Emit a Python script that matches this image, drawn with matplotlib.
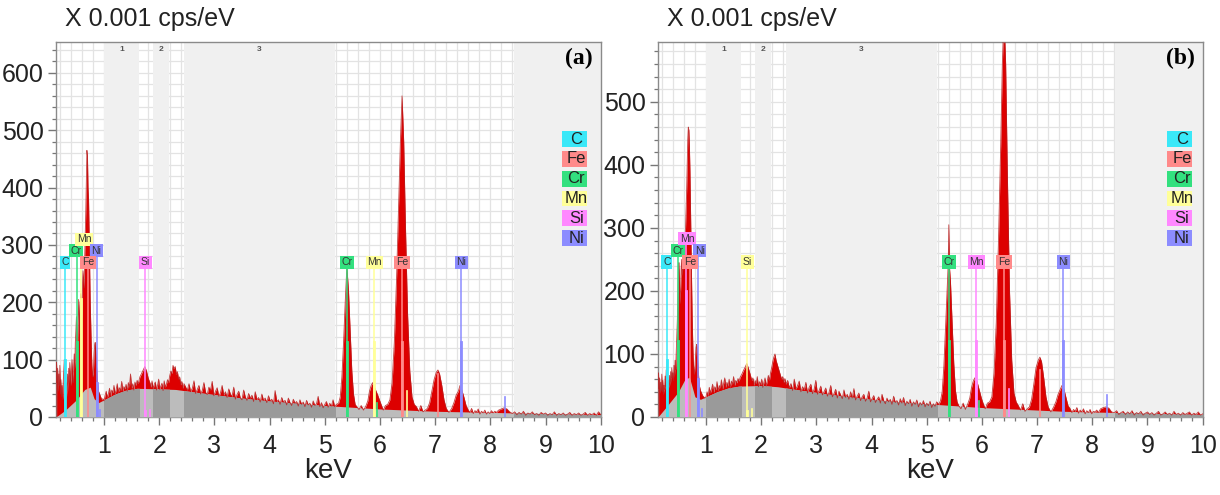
import matplotlib
matplotlib.use("Agg")
import matplotlib.pyplot as plt
from matplotlib.patches import Rectangle
from matplotlib.ticker import MultipleLocator

plt.rcParams["font.family"] = ["Liberation Sans", "DejaVu Sans"]

# element colours used by the EDS software
CYAN, SALMON, GREEN = "#3ae8f8", "#ff8a8a", "#33e07f"
YELLOW, MAGENTA, BLUE = "#ffff99", "#ff88ff", "#8c8cff"

LEGEND = ["C", "Fe", "Cr", "Mn", "Si", "Ni"]
LEGEND_COLORS = [CYAN, SALMON, GREEN, YELLOW, MAGENTA, BLUE]

# ROI bands (keV) and their numbers
ROI_BANDS = [(1.00, 1.63), (1.89, 2.17), (2.45, 5.18), (8.42, 10.0)]
ROI_NAMES = ["1", "2", "3", ""]

# spectrum (a): (keV, counts x0.001 cps/eV)
A_SPECTRUM = [
    (0.13, 0), (0.14, 95), (0.15, 60), (0.16, 85), (0.17, 45), (0.18, 75), (0.19, 55),
    (0.20, 90), (0.21, 40), (0.22, 65), (0.23, 35), (0.24, 55), (0.25, 30), (0.26, 60),
    (0.27, 80), (0.28, 100), (0.29, 70), (0.30, 45), (0.31, 60), (0.32, 35), (0.33, 55),
    (0.34, 75), (0.35, 45), (0.36, 85), (0.37, 60), (0.38, 95), (0.39, 70), (0.40, 55),
    (0.41, 80), (0.42, 100), (0.43, 75), (0.44, 60), (0.45, 90), (0.46, 110), (0.47, 85),
    (0.48, 130), (0.49, 150), (0.50, 175), (0.51, 140), (0.52, 120), (0.53, 165),
    (0.54, 205), (0.55, 180), (0.56, 145), (0.57, 200), (0.58, 215), (0.59, 190),
    (0.60, 170), (0.61, 230), (0.62, 255), (0.63, 240), (0.64, 225), (0.65, 280),
    (0.66, 320), (0.67, 360), (0.68, 410), (0.69, 465), (0.70, 455), (0.71, 400),
    (0.72, 380), (0.73, 320), (0.74, 260), (0.75, 200), (0.76, 160), (0.77, 120),
    (0.78, 90), (0.79, 75), (0.80, 70), (0.81, 85), (0.82, 110), (0.83, 125), (0.84, 130),
    (0.85, 115), (0.86, 95), (0.87, 80), (0.88, 60), (0.89, 55), (0.90, 45), (0.92, 40),
    (0.94, 35), (0.96, 30), (0.98, 32), (1.00, 28),
    (1.02, 38), (1.04, 45), (1.06, 33), (1.08, 41), (1.10, 50), (1.12, 36), (1.14, 47),
    (1.16, 42), (1.18, 55), (1.20, 39), (1.22, 48), (1.24, 58), (1.26, 43), (1.28, 51),
    (1.30, 46), (1.32, 62), (1.34, 44), (1.36, 53), (1.38, 49), (1.40, 57), (1.42, 45),
    (1.44, 60), (1.46, 52), (1.48, 75), (1.50, 50), (1.52, 58), (1.54, 47), (1.56, 61),
    (1.58, 55), (1.60, 64), (1.62, 58), (1.65, 70), (1.68, 76), (1.71, 82), (1.74, 88),
    (1.77, 80), (1.80, 68), (1.83, 60), (1.85, 52), (1.87, 63), (1.89, 49), (1.91, 57),
    (1.93, 61), (1.95, 47), (1.97, 55), (1.99, 66), (2.01, 48), (2.03, 54), (2.05, 59),
    (2.07, 46), (2.09, 63), (2.11, 52), (2.13, 57), (2.15, 65), (2.17, 60), (2.19, 72),
    (2.21, 80), (2.23, 76), (2.25, 90), (2.27, 84), (2.29, 88), (2.31, 74), (2.33, 79),
    (2.35, 66), (2.37, 70), (2.39, 56), (2.41, 62), (2.43, 50), (2.45, 58),
    (2.48, 52), (2.51, 47), (2.54, 58), (2.57, 44), (2.60, 50), (2.63, 63), (2.66, 41),
    (2.69, 48), (2.72, 55), (2.75, 40), (2.78, 46), (2.81, 60), (2.84, 43), (2.87, 39),
    (2.90, 52), (2.93, 47), (2.96, 62), (2.99, 37), (3.02, 45), (3.05, 51), (3.08, 36),
    (3.11, 42), (3.14, 55), (3.17, 38), (3.20, 44), (3.23, 34), (3.26, 49), (3.29, 40),
    (3.32, 36), (3.35, 52), (3.38, 31), (3.41, 39), (3.44, 45), (3.47, 33), (3.50, 30),
    (3.53, 47), (3.56, 35), (3.59, 29), (3.62, 41), (3.65, 33), (3.68, 38), (3.71, 27),
    (3.74, 44), (3.77, 30), (3.80, 34), (3.83, 26), (3.86, 40), (3.89, 29), (3.92, 33),
    (3.95, 25), (3.98, 37), (4.01, 28), (4.04, 31), (4.07, 23), (4.10, 46), (4.13, 27),
    (4.16, 30), (4.19, 22), (4.22, 34), (4.25, 26), (4.28, 29), (4.31, 21), (4.34, 33),
    (4.37, 25), (4.40, 20), (4.43, 31), (4.46, 24), (4.49, 27), (4.52, 19), (4.55, 30),
    (4.58, 22), (4.61, 26), (4.64, 18), (4.67, 29), (4.70, 21), (4.73, 24), (4.76, 17),
    (4.79, 28), (4.82, 20), (4.85, 23), (4.88, 36), (4.91, 18), (4.94, 25), (4.97, 16),
    (5.00, 22), (5.03, 27), (5.06, 17), (5.09, 24), (5.12, 19), (5.15, 30), (5.18, 18),
    (5.21, 22), (5.25, 24),
    (5.28, 35), (5.31, 70), (5.34, 130), (5.37, 200), (5.40, 262), (5.43, 220),
    (5.46, 150), (5.49, 80), (5.52, 40), (5.55, 22), (5.58, 18), (5.62, 13), (5.66, 20),
    (5.70, 12), (5.74, 18), (5.78, 28), (5.81, 45), (5.84, 55), (5.87, 60), (5.90, 52),
    (5.93, 45), (5.96, 38), (5.99, 30), (6.02, 22), (6.06, 12), (6.10, 20), (6.14, 22),
    (6.18, 30), (6.22, 60), (6.26, 130), (6.30, 240), (6.34, 380), (6.37, 480),
    (6.40, 560), (6.43, 480), (6.46, 340), (6.50, 180), (6.54, 80), (6.58, 35),
    (6.62, 22), (6.66, 18), (6.70, 10), (6.74, 20), (6.78, 9), (6.82, 12), (6.86, 15),
    (6.90, 25), (6.94, 45), (6.98, 65), (7.02, 78), (7.05, 82), (7.08, 75), (7.12, 55),
    (7.16, 30), (7.20, 15), (7.25, 8), (7.30, 15), (7.34, 25), (7.38, 38), (7.42, 45),
    (7.45, 55), (7.48, 48), (7.52, 35), (7.56, 20),
    (7.60, 12), (7.63, 8), (7.66, 15), (7.69, 6), (7.72, 11), (7.75, 9), (7.78, 14),
    (7.81, 5), (7.84, 10), (7.87, 7), (7.90, 12), (7.93, 5), (7.96, 9), (7.99, 6),
    (8.02, 11), (8.05, 7), (8.08, 10), (8.11, 8), (8.15, 12), (8.20, 14), (8.25, 16),
    (8.30, 14), (8.35, 9), (8.40, 6), (8.44, 9), (8.48, 4), (8.52, 8), (8.56, 5),
    (8.60, 10), (8.64, 3), (8.68, 7), (8.72, 5), (8.76, 9), (8.80, 4), (8.84, 6),
    (8.88, 3), (8.92, 8), (8.96, 5), (9.00, 7), (9.04, 3), (9.08, 6), (9.12, 4),
    (9.16, 9), (9.20, 3), (9.24, 6), (9.28, 4), (9.32, 7), (9.36, 3), (9.40, 5),
    (9.44, 8), (9.48, 3), (9.52, 6), (9.56, 4), (9.60, 7), (9.64, 3), (9.68, 5),
    (9.72, 8), (9.76, 3), (9.80, 6), (9.84, 4), (9.88, 7), (9.92, 3), (9.96, 9),
    (10.0, 4),
]
A_BACKGROUND = [
    (0.13, 0), (0.30, 12), (0.50, 30), (0.65, 48), (0.75, 52), (0.82, 32), (0.90, 25),
    (1.00, 30), (1.20, 40), (1.40, 47), (1.60, 50), (2.00, 49), (2.30, 48), (2.60, 44),
    (3.00, 39), (3.50, 33), (4.00, 28), (4.50, 24), (5.00, 20), (5.50, 17), (6.00, 14),
    (6.50, 12), (7.00, 10), (7.50, 9), (8.00, 8), (8.50, 7), (9.00, 6), (9.50, 5),
    (10.0, 4),
]

# spectrum (b)
B_SPECTRUM = [
    (0.13, 0), (0.14, 70), (0.15, 45), (0.16, 62), (0.17, 38), (0.18, 55), (0.19, 42),
    (0.20, 68), (0.21, 40), (0.22, 58), (0.23, 36), (0.24, 50), (0.25, 44), (0.26, 65),
    (0.27, 48), (0.28, 75), (0.29, 52), (0.30, 60), (0.31, 42), (0.32, 58), (0.33, 46),
    (0.34, 66), (0.35, 50), (0.36, 72), (0.37, 55), (0.38, 78), (0.39, 62), (0.40, 70),
    (0.41, 58), (0.42, 82), (0.43, 66), (0.44, 90), (0.45, 75), (0.46, 100), (0.47, 120),
    (0.48, 150), (0.49, 185), (0.50, 230), (0.51, 245), (0.52, 215), (0.53, 180),
    (0.54, 200), (0.55, 235), (0.56, 250), (0.57, 225), (0.58, 240), (0.59, 255),
    (0.60, 245), (0.61, 260), (0.62, 280), (0.63, 300), (0.64, 330), (0.65, 360),
    (0.66, 400), (0.67, 440), (0.68, 460), (0.69, 455), (0.70, 430), (0.71, 390),
    (0.72, 330), (0.73, 270), (0.74, 210), (0.75, 160), (0.76, 120), (0.77, 90),
    (0.78, 75), (0.79, 68), (0.80, 80), (0.81, 95), (0.82, 110), (0.83, 115), (0.84, 105),
    (0.85, 90), (0.86, 75), (0.87, 60), (0.88, 50), (0.90, 42), (0.92, 38), (0.94, 34),
    (0.96, 32), (0.98, 30), (1.00, 32),
    (1.02, 40), (1.04, 34), (1.06, 47), (1.08, 38), (1.10, 44), (1.12, 52), (1.14, 39),
    (1.16, 48), (1.18, 43), (1.20, 56), (1.22, 41), (1.24, 50), (1.26, 46), (1.28, 59),
    (1.30, 44), (1.32, 53), (1.34, 62), (1.36, 47), (1.38, 55), (1.40, 49), (1.42, 60),
    (1.44, 46), (1.46, 57), (1.48, 52), (1.50, 64), (1.52, 50), (1.54, 58), (1.56, 54),
    (1.58, 61), (1.60, 57), (1.62, 63), (1.65, 68), (1.68, 74), (1.71, 79), (1.74, 85),
    (1.77, 77), (1.80, 68), (1.83, 58), (1.85, 62), (1.87, 50), (1.89, 58), (1.91, 53),
    (1.93, 64), (1.95, 48), (1.97, 56), (1.99, 51), (2.01, 60), (2.03, 47), (2.05, 55),
    (2.07, 62), (2.09, 49), (2.11, 57), (2.13, 66), (2.15, 58), (2.17, 70), (2.19, 78),
    (2.21, 88), (2.23, 95), (2.25, 100), (2.27, 90), (2.29, 84), (2.31, 78), (2.33, 72),
    (2.35, 66), (2.37, 60), (2.39, 64), (2.41, 55), (2.43, 61), (2.45, 52),
    (2.48, 58), (2.51, 46), (2.54, 53), (2.57, 42), (2.60, 60), (2.63, 44), (2.66, 50),
    (2.69, 57), (2.72, 40), (2.75, 48), (2.78, 43), (2.81, 55), (2.84, 38), (2.87, 47),
    (2.90, 52), (2.93, 37), (2.96, 44), (2.99, 58), (3.02, 36), (3.05, 42), (3.08, 49),
    (3.11, 35), (3.14, 40), (3.17, 46), (3.20, 33), (3.23, 39), (3.26, 50), (3.29, 32),
    (3.32, 37), (3.35, 44), (3.38, 30), (3.41, 41), (3.44, 35), (3.47, 29), (3.50, 43),
    (3.53, 31), (3.56, 36), (3.59, 28), (3.62, 40), (3.65, 30), (3.68, 45), (3.71, 27),
    (3.74, 33), (3.77, 38), (3.80, 26), (3.83, 32), (3.86, 36), (3.89, 25), (3.92, 30),
    (3.95, 41), (3.98, 24), (4.01, 29), (4.04, 34), (4.07, 23), (4.10, 28), (4.13, 32),
    (4.16, 22), (4.19, 36), (4.22, 26), (4.25, 21), (4.28, 30), (4.31, 24), (4.34, 28),
    (4.37, 20), (4.40, 33), (4.43, 23), (4.46, 26), (4.49, 19), (4.52, 29), (4.55, 22),
    (4.58, 31), (4.61, 18), (4.64, 25), (4.67, 21), (4.70, 28), (4.73, 17), (4.76, 24),
    (4.79, 20), (4.82, 27), (4.85, 16), (4.88, 23), (4.91, 19), (4.94, 26), (4.97, 16),
    (5.00, 22), (5.03, 18), (5.06, 25), (5.09, 15), (5.12, 21), (5.15, 17), (5.18, 24),
    (5.22, 20), (5.25, 26),
    (5.28, 40), (5.31, 80), (5.34, 140), (5.37, 205), (5.39, 245), (5.40, 305),
    (5.41, 240), (5.43, 215), (5.46, 150), (5.49, 85), (5.52, 42), (5.55, 24),
    (5.58, 18), (5.62, 13), (5.66, 22), (5.70, 12), (5.74, 20), (5.78, 30), (5.81, 46),
    (5.84, 56), (5.87, 62), (5.90, 60), (5.93, 50), (5.96, 40), (5.99, 30), (6.02, 22),
    (6.06, 13), (6.10, 22), (6.14, 24), (6.18, 32), (6.22, 70), (6.26, 150), (6.30, 280),
    (6.34, 430), (6.37, 560), (6.40, 640), (6.43, 560), (6.46, 390), (6.50, 200),
    (6.54, 90), (6.58, 38), (6.62, 24), (6.66, 18), (6.70, 11), (6.74, 21), (6.78, 9),
    (6.82, 13), (6.86, 16), (6.90, 28), (6.94, 52), (6.98, 78), (7.02, 90), (7.05, 95),
    (7.08, 88), (7.12, 62), (7.16, 32), (7.20, 16), (7.25, 8), (7.30, 16), (7.34, 24),
    (7.38, 36), (7.42, 44), (7.45, 50), (7.48, 46), (7.52, 32), (7.56, 18),
    (7.60, 13), (7.63, 7), (7.66, 12), (7.69, 9), (7.72, 15), (7.75, 6), (7.78, 11),
    (7.81, 8), (7.84, 13), (7.87, 5), (7.90, 10), (7.93, 7), (7.96, 12), (7.99, 5),
    (8.02, 9), (8.05, 8), (8.08, 11), (8.11, 7), (8.15, 13), (8.20, 15), (8.25, 16),
    (8.30, 14), (8.35, 8), (8.40, 7), (8.44, 10), (8.48, 4), (8.52, 7), (8.56, 9),
    (8.60, 4), (8.64, 8), (8.68, 5), (8.72, 10), (8.76, 3), (8.80, 7), (8.84, 5),
    (8.88, 9), (8.92, 3), (8.96, 6), (9.00, 8), (9.04, 4), (9.08, 7), (9.12, 3),
    (9.16, 6), (9.20, 9), (9.24, 3), (9.28, 5), (9.32, 8), (9.36, 4), (9.40, 6),
    (9.44, 3), (9.48, 9), (9.52, 4), (9.56, 6), (9.60, 3), (9.64, 7), (9.68, 4),
    (9.72, 6), (9.76, 8), (9.80, 3), (9.84, 6), (9.88, 4), (9.92, 8), (9.96, 3),
    (10.0, 5),
]
B_BACKGROUND = [
    (0.13, 0), (0.30, 18), (0.50, 40), (0.62, 60), (0.70, 63), (0.80, 32), (0.90, 28),
    (1.00, 32), (1.20, 40), (1.40, 46), (1.60, 49), (2.00, 50), (2.30, 48), (2.60, 44),
    (3.00, 39), (3.50, 33), (4.00, 28), (4.50, 24), (5.00, 21), (5.50, 18), (6.00, 15),
    (6.50, 13), (7.00, 11), (7.50, 9), (8.00, 8), (8.50, 7), (9.00, 6), (9.50, 5),
    (10.0, 4),
]

# element markers: (label, keV, line colour, label x, label y, strong-part height)
A_MARKERS = [
    ("C", 0.29, CYAN, 0.29, 270, 100), ("Cr", 0.51, GREEN, 0.49, 290, 130),
    ("Mn", 0.58, YELLOW, 0.64, 310, 205), ("Ni", 0.87, BLUE, 0.86, 290, 60),
    ("Fe", 0.71, SALMON, 0.71, 270, 0), ("Si", 1.75, MAGENTA, 1.75, 270, 10),
    ("Cr", 5.41, GREEN, 5.41, 270, 130), ("Mn", 5.90, YELLOW, 5.90, 270, 130),
    ("Fe", 6.40, SALMON, 6.40, 270, 130), ("Ni", 7.47, BLUE, 7.47, 270, 130),
]
B_MARKERS = [
    ("C", 0.29, CYAN, 0.29, 246, 90), ("Cr", 0.49, GREEN, 0.49, 264, 120),
    ("Mn", 0.64, MAGENTA, 0.66, 283, 200), ("Ni", 0.86, BLUE, 0.89, 264, 60),
    ("Fe", 0.71, SALMON, 0.71, 246, 0), ("Si", 1.75, YELLOW, 1.75, 246, 10),
    ("Cr", 5.41, GREEN, 5.41, 246, 120), ("Mn", 5.90, MAGENTA, 5.90, 246, 120),
    ("Fe", 6.40, SALMON, 6.40, 246, 120), ("Ni", 7.47, BLUE, 7.47, 246, 120),
]
# short secondary lines: (keV, height, colour)
A_MINOR_LINES = [(1.84, 12, MAGENTA), (5.95, 25, GREEN), (6.49, 45, YELLOW),
                 (7.06, 75, SALMON), (8.26, 35, BLUE), (0.93, 12, BLUE)]
B_MINOR_LINES = [(1.84, 12, YELLOW), (5.95, 25, GREEN), (6.49, 45, MAGENTA),
                 (7.06, 75, SALMON), (8.26, 35, BLUE), (0.93, 12, BLUE)]

PANELS = [
    ("(a)", A_SPECTRUM, A_BACKGROUND, A_MARKERS, A_MINOR_LINES, 654, [0.0459, 0.951]),
    ("(b)", B_SPECTRUM, B_BACKGROUND, B_MARKERS, B_MINOR_LINES, 595, [0.5393, 0.958]),
]

fig = plt.figure(figsize=(12.2, 4.95), dpi=100)

for tag, spec, bg, markers, minors, ymax, (left, legx) in PANELS:
    ax = fig.add_axes([left, 0.1576, 0.4465, 0.7576])
    sx, sy = zip(*spec)
    bx, by = zip(*bg)

    ax.set_xlim(0.13, 10)
    ax.set_ylim(0, ymax)
    ax.xaxis.set_major_locator(MultipleLocator(1))
    ax.xaxis.set_minor_locator(MultipleLocator(0.2))
    ax.yaxis.set_major_locator(MultipleLocator(100))
    ax.yaxis.set_minor_locator(MultipleLocator(20))
    ax.grid(which="both", color="#e3e3e3", lw=0.9)
    ax.set_axisbelow(True)

    for (x0, x1), name in zip(ROI_BANDS, ROI_NAMES):
        ax.axvspan(x0, x1, color="#f0f0f0", lw=0, zorder=0.8)
        if name:
            ax.text((x0 + x1) / 2, 0.988, name, transform=ax.get_xaxis_transform(),
                    ha="center", va="top", fontsize=6, color="#555555",
                    fontweight="bold")

    ax.fill_between(sx, 0, sy, color="#dd0000", lw=0, zorder=2)
    ax.fill_between(bx, 0, by, color="#bcbcbc", lw=0, zorder=3)
    for x0, x1 in ROI_BANDS:
        dark = ax.fill_between(bx, 0, by, color="#9a9a9a", lw=0, zorder=3.1)
        dark.set_clip_path(Rectangle((x0, 0), x1 - x0, ymax, transform=ax.transData))
    ax.plot(sx, sy, color="#b81f1f", lw=0.6, alpha=0.85, zorder=3.5)

    for x, h, col in minors:
        ax.plot([x, x], [0, h], color=col, lw=1.2, zorder=4)
    for name, x, col, lx, ly, strong in markers:
        ax.plot([x, x], [0, ly], color=col, lw=1.1, zorder=4)
        if strong:
            ax.plot([x, x], [0, strong], color=col, lw=2.0, zorder=4)
        ax.text(lx, ly, name, ha="center", va="center", fontsize=7.5, color="#333333",
                zorder=6, bbox=dict(boxstyle="square,pad=0.15", fc=col, ec="none"))

    # element legend on the right
    for i, (name, col) in enumerate(zip(LEGEND, LEGEND_COLORS)):
        yc = 0.741 - i * 0.0528
        ax.add_patch(Rectangle((legx - 0.023, yc - 0.021), 0.046, 0.042,
                               transform=ax.transAxes, fc=col, ec="none", zorder=6))
        ax.text(legx + 0.004, yc, name, transform=ax.transAxes, ha="center",
                va="center", fontsize=12, color="#222222", zorder=7)

    ax.text(0.985, 0.985, tag, transform=ax.transAxes, ha="right", va="top",
            fontsize=17, fontweight="bold", family=["Liberation Serif", "DejaVu Serif"],
            zorder=7)
    ax.text(0.016, 1.03, "X 0.001 cps/eV", transform=ax.transAxes, ha="left",
            va="bottom", fontsize=18, color="#222222")
    ax.set_xlabel("keV", fontsize=20, labelpad=0, color="#222222")

    for side in ax.spines.values():
        side.set_color("#8a8a8a")
        side.set_linewidth(1.0)
    ax.tick_params(which="major", direction="out", length=6, width=1, color="#777777",
                   labelsize=18, labelcolor="#222222", pad=3)
    ax.tick_params(which="minor", direction="out", length=3, width=0.9, color="#777777")
    ax.tick_params(axis="x", pad=6)

fig.savefig("out.png", dpi=100)
